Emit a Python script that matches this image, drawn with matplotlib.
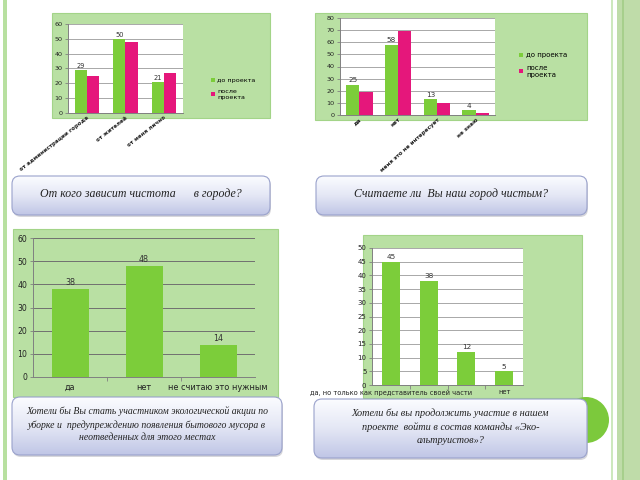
import numpy as np
import matplotlib
matplotlib.use('Agg')
import matplotlib.pyplot as plt
from matplotlib.patches import Rectangle, FancyBboxPatch, Circle
from matplotlib.colors import LinearSegmentedColormap

# data
cat1 = ['от администрации города', 'от жителей', 'от меня лично']
before1 = [29, 50, 21]
after1 = [25, 48, 27]

cat2 = ['да', 'нет', 'меня это не интересует', 'не знаю']
before2 = [25, 58, 13, 4]
after2 = [19, 69, 10, 2]

cat3 = ['да', 'нет', 'не считаю это нужным']
vals3 = [38, 48, 14]

cat4 = ['да, но только как представитель своей части', '', '', 'нет']
vals4 = [45, 38, 12, 5]

series_names = ['до проекта', 'после\nпроекта']
questions = [
    'От кого зависит чистота      в городе?',
    'Считаете ли  Вы наш город чистым?',
    'Хотели бы Вы стать участником экологической акции по\n'
    'уборке и  предупреждению появления бытового мусора в\n'
    'неотведенных для этого местах',
    'Хотели бы вы продолжить участие в нашем\n'
    'проекте  войти в состав команды «Эко-\n'
    'альтруистов»?',
]

W, H = 640, 480
GREEN = '#7ccd3a'
PINK = '#e5177b'
BOX = '#b9e0a3'
BOX_EDGE = '#a3d488'
GRID = '#9a9a9a'
SPINE = '#808080'


def rect(x0, y0, x1, y1):
    return [x0 / W, 1 - y1 / H, (x1 - x0) / W, (y1 - y0) / H]


fig = plt.figure(figsize=(6.4, 4.8), dpi=100)

# background layer in pixel coords
bg = fig.add_axes([0, 0, 1, 1], zorder=0)
bg.set_xlim(0, W)
bg.set_ylim(H, 0)
bg.axis('off')

bg.add_patch(Rectangle((3, 0), 4, H, color='#b8e0a0', lw=0))
bg.add_patch(Rectangle((611, 0), 2, H, color='#cde8bd', lw=0))
bg.add_patch(Rectangle((617, 0), 23, H, color='#bfdca9', lw=0))
bg.add_patch(Rectangle((622, 0), 2, H, color='#a7cf8c', lw=0))

# chart boxes
for (x0, y0, x1, y1) in [(52, 13, 270, 118), (315, 13, 587, 120),
                         (13, 229, 278, 397), (363, 235, 582, 398)]:
    bg.add_patch(Rectangle((x0, y0), x1 - x0, y1 - y0, facecolor=BOX,
                           edgecolor=BOX_EDGE, lw=0.8))


def style_axes(ax, ymax, ystep, fs, face='white'):
    ax.set_facecolor(face)
    ax.set_ylim(0, ymax)
    ax.set_yticks(np.arange(0, ymax + 1, ystep))
    ax.yaxis.grid(True, color=GRID, lw=0.6)
    ax.set_axisbelow(True)
    for s in ['top', 'right']:
        ax.spines[s].set_visible(False)
    for s in ['left', 'bottom']:
        ax.spines[s].set_color(SPINE)
        ax.spines[s].set_linewidth(0.7)
    ax.tick_params(axis='y', labelsize=fs, length=2.5, width=0.6,
                   color=SPINE, pad=1.5, labelcolor='#222222')


# chart 1
ax1 = fig.add_axes(rect(68, 24, 183, 113), zorder=2)
style_axes(ax1, 60, 10, 4.6)
x = np.arange(len(cat1))
w = 0.32
ax1.bar(x - w / 2, before1, w, color=GREEN, label=series_names[0])
ax1.bar(x + w / 2, after1, w, color=PINK, label=series_names[1])
for xi, v in zip(x, before1):
    ax1.text(xi - w / 2, v + 0.8, str(v), ha='center', va='bottom', fontsize=4.8, color='#333333')
ax1.set_xlim(-0.5, len(cat1) - 0.5)
ax1.set_xticks(x)
ax1.set_xticklabels(cat1, rotation=38, ha='right', rotation_mode='anchor',
                    fontsize=4.1, color='#222222', fontweight='bold')
ax1.tick_params(axis='x', length=0, pad=1.5)
ax1.legend(loc='upper left', bbox_to_anchor=(205 / W, 1 - 72 / H),
           bbox_transform=fig.transFigure, frameon=False, fontsize=4.6,
           handlelength=0.6, handleheight=0.6, handletextpad=0.4, labelspacing=0.9)

# chart 2
ax2 = fig.add_axes(rect(340, 18, 495, 115), zorder=2)
style_axes(ax2, 80, 10, 4.6)
x = np.arange(len(cat2))
w = 0.34
ax2.bar(x - w / 2, before2, w, color=GREEN, label=series_names[0])
ax2.bar(x + w / 2, after2, w, color=PINK, label=series_names[1])
for xi, v in zip(x, before2):
    ax2.text(xi - w / 2, v + 1, str(v), ha='center', va='bottom', fontsize=5.2, color='#333333')
ax2.set_xlim(-0.5, len(cat2) - 0.5)
ax2.set_xticks(x)
ax2.set_xticklabels(cat2, rotation=42, ha='right', rotation_mode='anchor',
                    fontsize=4.1, color='#222222', fontweight='bold')
ax2.tick_params(axis='x', length=0, pad=1.5)
ax2.legend(loc='upper left', bbox_to_anchor=(513 / W, 1 - 46 / H),
           bbox_transform=fig.transFigure, frameon=False, fontsize=5,
           handlelength=0.6, handleheight=0.6, handletextpad=0.4, labelspacing=0.9)

# chart 3
ax3 = fig.add_axes(rect(33, 238, 255, 377), zorder=2)
style_axes(ax3, 60, 10, 5.6, face='none')
ax3.yaxis.grid(True, color='#707070', lw=0.7)
x = np.arange(len(cat3))
ax3.bar(x, vals3, 0.5, color=GREEN)
for xi, v in zip(x, vals3):
    ax3.text(xi, v + 0.8, str(v), ha='center', va='bottom', fontsize=5.8, color='#333333')
ax3.set_xlim(-0.5, len(cat3) - 0.5)
ax3.set_xticks(x)
ax3.set_xticklabels(cat3, fontsize=5.9, color='#222222')
ax3.set_xticks(np.arange(0.5, len(cat3) - 0.5), minor=True)
ax3.tick_params(axis='x', which='major', length=0, pad=4)
ax3.tick_params(axis='x', which='minor', length=3, color=SPINE)

# chart 4
ax4 = fig.add_axes(rect(372, 248, 523, 385), zorder=2)
style_axes(ax4, 50, 5, 5)
x = np.arange(len(cat4))
ax4.bar(x, vals4, 0.48, color=GREEN)
for xi, v in zip(x, vals4):
    ax4.text(xi, v + 0.6, str(v), ha='center', va='bottom', fontsize=5.2, color='#333333')
ax4.set_xlim(-0.5, len(cat4) - 0.5)
ax4.set_xticks(x)
ax4.set_xticklabels(cat4, fontsize=4.8, color='#222222')
ax4.set_xticks(np.arange(0.5, len(cat4) - 0.5), minor=True)
ax4.tick_params(axis='x', which='major', length=0, pad=3)
ax4.tick_params(axis='x', which='minor', length=3, color=SPINE)

# foreground: callouts
fg = fig.add_axes([0, 0, 1, 1], zorder=5)
fg.patch.set_alpha(0)
fg.axis('off')

fg.add_patch(Circle((586, 420), 23, color='#7cc93c', lw=0))

cmap = LinearSegmentedColormap.from_list('callout', ['#fbfcff', '#e4e7f5', '#c0c6e6'])
grad = np.linspace(0, 1, 100).reshape(-1, 1)
boxes = [(12, 176, 270, 215), (316, 176, 587, 215),
         (12, 397, 282, 455), (314, 399, 587, 458)]
sizes = [8.6, 8.6, 7.0, 7.4]
for (x0, y0, x1, y1), txt, fs in zip(boxes, questions, sizes):
    shadow = FancyBboxPatch((x0 + 1, y0 + 2), x1 - x0, y1 - y0,
                            boxstyle='round,pad=0,rounding_size=8',
                            facecolor='#b0b0b8', edgecolor='none', alpha=0.5)
    fg.add_patch(shadow)
    box = FancyBboxPatch((x0, y0), x1 - x0, y1 - y0,
                         boxstyle='round,pad=0,rounding_size=8',
                         facecolor='none', edgecolor='#9aa2cc', lw=0.8, zorder=3)
    fg.add_patch(box)
    im = fg.imshow(grad, extent=(x0, x1, y1, y0), aspect='auto', cmap=cmap, zorder=2)
    im.set_clip_path(box)
    fg.text((x0 + x1) / 2, (y0 + y1) / 2 - 2, txt, ha='center', va='center',
            fontsize=fs, family=['Liberation Serif', 'DejaVu Serif'], style='italic',
            color='#222222', linespacing=1.5, zorder=4)

fg.set_xlim(0, W)
fg.set_ylim(H, 0)

fig.savefig('out.png', dpi=100)
